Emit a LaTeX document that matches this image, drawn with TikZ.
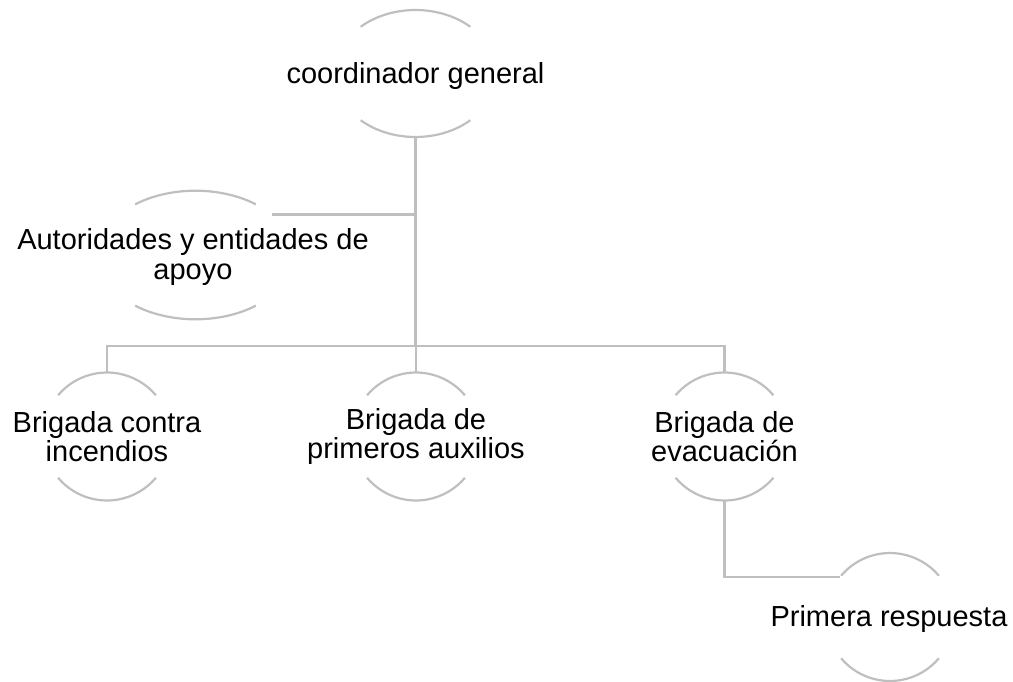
\documentclass[tikz,border=0pt]{standalone}
\usepackage{fontspec}
\setmainfont{Liberation Sans}
\usetikzlibrary{shapes.geometric}
\definecolor{lncol}{RGB}{191,191,191}
\tikzset{
  ln/.style={draw=lncol, line width=2.2pt},
  shp/.style={ellipse, draw=none, inner sep=0pt, outer sep=0pt},
  lbl/.style={align=center, inner sep=0pt, font=\fontsize{29}{29.5}\selectfont, text=black}
}
\newcommand\ovalarcs[4]{%
  \draw[ln] ([shift={({-#2*cos(#4)*1pt},{#3*sin(#4)*1pt})}]#1.center) arc[start angle={180-#4}, end angle={#4}, x radius=#2pt, y radius=#3pt];
  \draw[ln] ([shift={({-#2*cos(#4)*1pt},{-#3*sin(#4)*1pt})}]#1.center) arc[start angle={180+#4}, end angle={360-#4}, x radius=#2pt, y radius=#3pt];
}
\begin{document}
\begin{tikzpicture}[x=1pt,y=-1pt]
\path[use as bounding box] (0,0) rectangle (1013,681);
% shapes
\node[shp, minimum width=162pt, minimum height=127pt] (cgS) at (415.5,73.5) {};
\node[shp, minimum width=196pt, minimum height=128.6pt] (autS) at (195.5,255) {};
\node[shp, minimum width=128pt, minimum height=128pt] (incS) at (107,436.5) {};
\node[shp, minimum width=128pt, minimum height=128pt] (auxS) at (416,436.5) {};
\node[shp, minimum width=128pt, minimum height=128pt] (evaS) at (724.5,436.5) {};
\node[shp, minimum width=128pt, minimum height=128pt] (prS) at (890,617) {};
% arcs
\ovalarcs{cgS}{81}{63.5}{47.4}
\ovalarcs{autS}{98}{64.3}{52}
\ovalarcs{incS}{64}{64}{40.2}
\ovalarcs{auxS}{64}{64}{40.2}
\ovalarcs{evaS}{64}{64}{40.2}
\ovalarcs{prS}{64}{64}{40.2}
% labels
\node[lbl] (cg) at (415.5,76) {coordinador general};
\node[lbl] (aut) at (193,257) {Autoridades y entidades de\\apoyo};
\node[lbl] (inc) at (107,436.5) {Brigada contra\\incendios};
\node[lbl] (aux) at (416,436.5) {Brigada de\\primeros auxilios};
\node[lbl] (eva) at (724.5,436.5) {Brigada de\\evacuación};
\node[lbl] (pr) at (889,619) {Primera respuesta};
% connectors
\coordinate (bus) at (415.5,345.7);
\draw[ln] (cgS.south) -- (bus);
\draw[ln] (incS.north) |- (bus) -| (evaS.north);
\draw[ln] (auxS.north) -- (auxS.north |- bus);
\draw[ln] (autS.28) -- (autS.28 -| bus);
\draw[ln] (evaS.south) |- (prS.141);
\end{tikzpicture}
\end{document}
